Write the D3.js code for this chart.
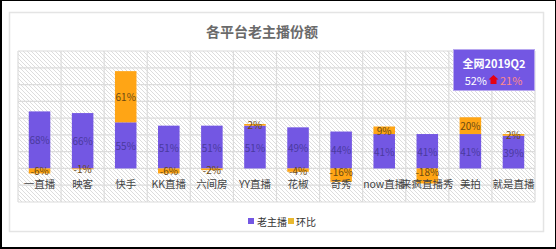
<!DOCTYPE html>
<html><head><meta charset="utf-8">
<script src="https://cdn.jsdelivr.net/npm/d3@7"></script>
<style>html,body{margin:0;padding:0;background:#fff;}svg{display:block;}</style>
</head><body>
<script>
const categories = ["一直播","映客","快手","KK直播","六间房","YY直播","花椒","奇秀","now直播","来疯直播秀","美拍","就是直播"];
const oldShare = [68,66,55,51,51,51,49,44,41,41,41,39];
const qoq = [-6,-1,61,-6,-2,2,-4,-16,9,-18,20,2];
const yTicks = [-40,-20,0,20,40,60,80,100,120,140];
const legendNames = ["老主播","环比"];
const titleText = "各平台老主播份额";
const boxLine1 = "全网2019Q2";
const boxShare = "52%";
const boxChange = "21%";

const W=556,H=249;
const purple="#7357e3", orange="#ffa515";
const font="'Noto Sans CJK SC','Noto Sans',sans-serif";
const svg=d3.select("body").append("svg").attr("width",W).attr("height",H);

// outer black frame
svg.append("rect").attr("x",0).attr("y",0).attr("width",W).attr("height",H).attr("fill","#000");
svg.append("rect").attr("x",2).attr("y",1).attr("width",W-3).attr("height",H-3).attr("fill","#fff");
// panel
svg.append("rect").attr("x",9.5).attr("y",12.5).attr("width",534).attr("height",219).attr("fill","#fff").attr("stroke","#e4e4e4").attr("stroke-width",1.5);

const L=18,R=535,T=51,B=202;
const x=d3.scaleBand().domain(categories).range([L,R]).paddingInner(0.5).paddingOuter(0.25);
const xb=d3.scaleBand().domain(categories).range([L,R]);
const y=d3.scaleLinear().domain([-40,140]).range([B,T]);

// hatch pattern
const defs=svg.append("defs");
const pat=defs.append("pattern").attr("id","hatch").attr("patternUnits","userSpaceOnUse").attr("width",4).attr("height",4);
pat.append("path").attr("d","M-1,-1 L5,5 M-1,3 L1,5 M3,-1 L5,1").attr("stroke","#d4d4d4").attr("stroke-width",0.8);
svg.append("rect").attr("x",L).attr("y",T).attr("width",R-L).attr("height",B-T).attr("fill","url(#hatch)");

// grid
const g=svg.append("g");
g.selectAll("line.h").data(yTicks).join("line").attr("x1",L).attr("x2",R)
  .attr("y1",d=>y(d)).attr("y2",d=>y(d)).attr("stroke","#dcdcdc").attr("stroke-width",1.2);
const vb=categories.map(c=>xb(c)).concat([R]);
g.selectAll("line.v").data(vb).join("line").attr("y1",T).attr("y2",B)
  .attr("x1",d=>d).attr("x2",d=>d).attr("stroke","#dcdcdc").attr("stroke-width",1.2);

// bars
const bw=x.bandwidth();
svg.selectAll("rect.p").data(categories).join("rect")
  .attr("x",c=>x(c)).attr("width",bw)
  .attr("y",(c,i)=>y(oldShare[i])).attr("height",(c,i)=>y(0)-y(oldShare[i])).attr("fill",purple);
svg.selectAll("rect.o").data(categories).join("rect")
  .attr("x",c=>x(c)).attr("width",bw)
  .attr("y",(c,i)=>qoq[i]>=0?y(oldShare[i]+qoq[i]):y(0))
  .attr("height",(c,i)=>Math.abs(y(qoq[i])-y(0))).attr("fill",orange);

// labels
svg.selectAll("text.pl").data(categories).join("text")
  .attr("x",c=>x(c)+bw/2).attr("y",(c,i)=>(y(oldShare[i])+y(0))/2)
  .attr("text-anchor","middle").attr("dominant-baseline","central")
  .attr("font-family",font).attr("font-size",10).attr("fill","#4a3a9e")
  .text((c,i)=>oldShare[i]+"%");
svg.selectAll("text.ol").data(categories).join("text")
  .attr("x",c=>x(c)+bw/2)
  .attr("y",(c,i)=>qoq[i]>=0?(y(oldShare[i]+qoq[i])+y(oldShare[i]))/2:Math.min((y(0)+y(qoq[i]))/2,y(0)+3))
  .attr("text-anchor","middle").attr("dominant-baseline","central")
  .attr("font-family",font).attr("font-size",10).attr("fill","#6b4a12")
  .text((c,i)=>qoq[i]+"%");

// category labels
svg.selectAll("text.cat").data(categories).join("text")
  .attr("x",c=>x(c)+bw/2).attr("y",y(0)+15)
  .attr("text-anchor","middle").attr("dominant-baseline","central")
  .attr("font-family",font).attr("font-size",10.5).attr("fill","#444")
  .text(c=>c);

// title
svg.append("text").attr("x",262).attr("y",31).attr("text-anchor","middle").attr("dominant-baseline","central")
  .attr("font-family",font).attr("font-size",14).attr("font-weight","bold").attr("fill","#6a6a6a").text(titleText);

// info box
svg.append("rect").attr("x",453.5).attr("y",49.5).attr("width",81).attr("height",41).attr("fill",purple).attr("stroke","#b8a8f0").attr("stroke-width",1);
svg.append("text").attr("x",494).attr("y",63).attr("text-anchor","middle").attr("dominant-baseline","central")
  .attr("font-family",font).attr("font-size",11).attr("font-weight","bold").attr("fill","#fff").text(boxLine1);
svg.append("text").attr("x",487).attr("y",80).attr("text-anchor","end").attr("dominant-baseline","central")
  .attr("font-family",font).attr("font-size",11).attr("fill","#fff").text(boxShare);
svg.append("path").attr("d","M493.5,75 L498.5,79.5 L496.5,79.5 L496.5,84 L490.5,84 L490.5,79.5 L488.5,79.5 Z").attr("fill","#e60012");
svg.append("text").attr("x",500).attr("y",80).attr("text-anchor","start").attr("dominant-baseline","central")
  .attr("font-family",font).attr("font-size",11).attr("fill","#ff8a8a").text(boxChange);

// legend
const lg=svg.append("g");
lg.append("rect").attr("x",248).attr("y",218).attr("width",6).attr("height",6).attr("fill",purple);
lg.append("text").attr("x",257).attr("y",221).attr("dominant-baseline","central").attr("font-family",font).attr("font-size",10).attr("fill","#333").text(legendNames[0]);
lg.append("rect").attr("x",288).attr("y",218).attr("width",6).attr("height",6).attr("fill","#e8b830");
lg.append("text").attr("x",296).attr("y",221).attr("dominant-baseline","central").attr("font-family",font).attr("font-size",10).attr("fill","#333").text(legendNames[1]);
</script>
</body></html>
